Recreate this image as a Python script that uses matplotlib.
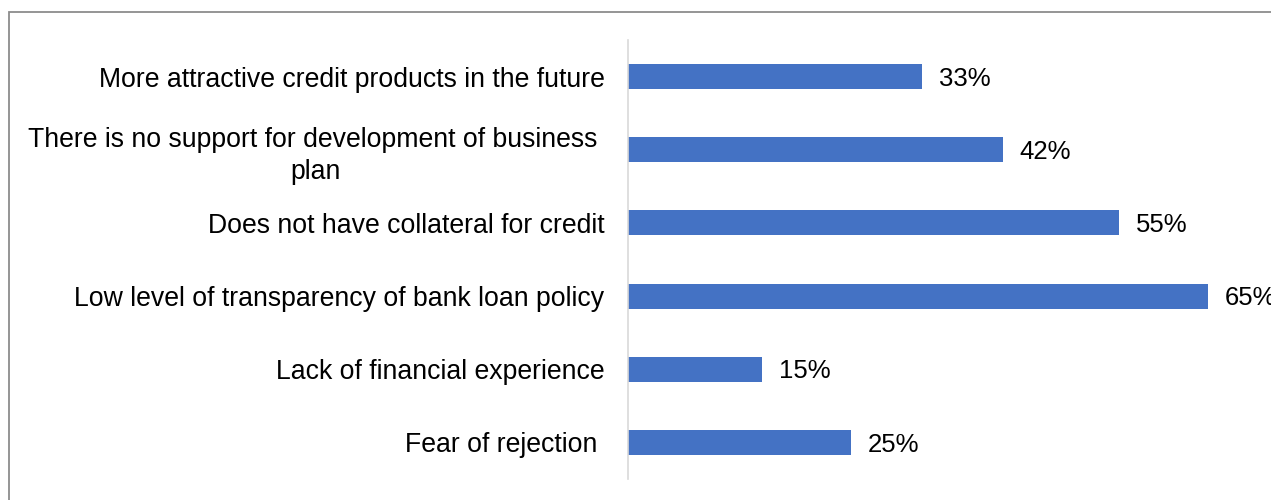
import matplotlib.pyplot as plt
from matplotlib.patches import Rectangle

categories = [
    'Fear of rejection ',
    'Lack of financial experience',
    'Low level of transparency of bank loan policy',
    'Does not have collateral for credit',
    'There is no support for development of business \nplan',
    'More attractive credit products in the future',
]
values = [25, 15, 65, 55, 42, 33]

plt.rcParams['font.family'] = ['Liberation Sans', 'DejaVu Sans']

fig = plt.figure(figsize=(12.71, 5.0), dpi=100)
ax = fig.add_axes([628 / 1271, 21 / 500, 580 / 1271, 439 / 500])

ypos = list(range(len(categories)))
bars = ax.barh(ypos, values, height=0.34, color='#4472C4')

for bar, v in zip(bars, values):
    ax.annotate(f'{v}%', (bar.get_width(), bar.get_y() + bar.get_height() / 2),
                xytext=(12, -1.5), textcoords='offset points',
                va='center', ha='left', fontsize=18.5, color='black',
                annotation_clip=False)

ax.set_xlim(0, 65)
ax.set_ylim(-0.5, len(categories) - 0.5)
ax.set_yticks(ypos)
ax.set_yticklabels(categories, fontsize=19.2, color='black',
                   multialignment='center', linespacing=1.3)
ax.tick_params(axis='y', length=0, pad=17)
ax.set_xticks([])

for s in ['top', 'right', 'bottom']:
    ax.spines[s].set_visible(False)
ax.spines['left'].set_color('#d9d9d9')
ax.spines['left'].set_linewidth(1.2)

# frame around the chart area
fig.patches.append(Rectangle((8.5 / 1271, -0.1), 1.2, (500 - 11.5) / 500 + 0.1,
                             transform=fig.transFigure, fill=False,
                             edgecolor='#8c8c8c', linewidth=1.3))

fig.savefig('out.png', dpi=100)
